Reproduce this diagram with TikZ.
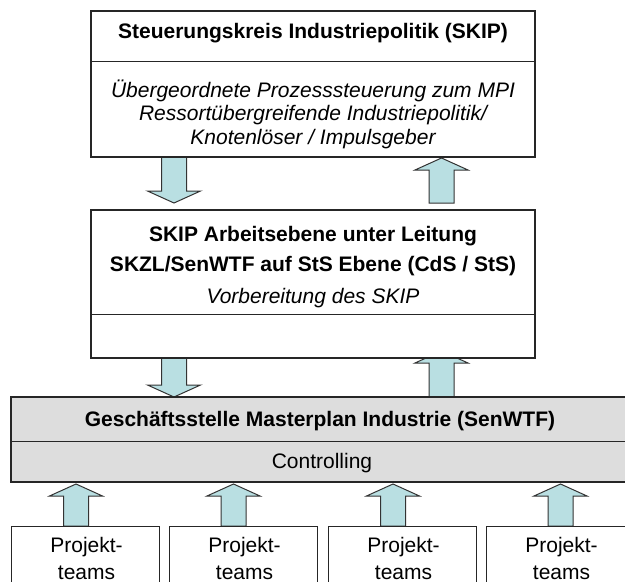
\documentclass[tikz,border=0pt]{standalone}
\usepackage{fontspec}
\setmainfont{Liberation Sans}
\usetikzlibrary{calc,backgrounds}

\definecolor{pfeilblau}{RGB}{185,223,226}
\definecolor{stellengrau}{RGB}{221,221,221}

% fat arrow from #1 (tail) to #2 (tip)
\newcommand{\blockpfeil}[2]{%
  \coordinate (hb) at ($(#2)!12pt!(#1)$);
  \draw[pfeil] ($(#1)!12.5pt!-90:(#2)$) -- ($(hb)!12.5pt!-90:(#2)$) -- ($(hb)!26.5pt!-90:(#2)$)
    -- (#2) -- ($(hb)!26.5pt!90:(#2)$) -- ($(hb)!12.5pt!90:(#2)$) -- ($(#1)!12.5pt!90:(#2)$) -- cycle;}

\begin{document}
\begin{tikzpicture}[x=1pt,y=-1pt,
    kasten/.style={draw=black!85,line width=1.1pt,fill=white,inner sep=0pt},
    pfeil/.style={draw=black!80,line width=1pt,fill=pfeilblau},
    txt/.style={align=center,inner sep=0pt,font=\fontsize{21}{23.5}\selectfont}]
  \path[use as bounding box] (0,0) rectangle (625,582);
  \clip (0,0) rectangle (625,582);

  % Boxes
  \node[kasten,minimum width=444pt,minimum height=146pt] (skip) at (313,84) {};
  \node[kasten,minimum width=444pt,minimum height=148pt] (arbeit) at (313,284) {};
  \node[kasten,fill=stellengrau,minimum width=623pt,minimum height=85pt] (gst) at (322.5,439.5) {};
  \draw[black!85,line width=1.1pt] ([yshift=-51pt]skip.north west) -- ([yshift=-51pt]skip.north east);
  \draw[black!85,line width=1.1pt] ([yshift=-105pt]arbeit.north west) -- ([yshift=-105pt]arbeit.north east);
  \draw[black!85,line width=1.1pt] ([yshift=-45pt]gst.north west) -- ([yshift=-45pt]gst.north east);

  % Texts
  \node[txt,font=\fontsize{21}{23.5}\selectfont\bfseries] (skiptitel) at (313,33) {Steuerungskreis Industriepolitik (SKIP)};
  \node[txt,font=\fontsize{21}{23.5}\selectfont\itshape] (skipinfo) at (313,114) {Übergeordnete Prozesssteuerung zum MPI\\Ressortübergreifende Industriepolitik/\\Knotenlöser / Impulsgeber};
  \node[txt,font=\fontsize{21}{30}\selectfont\bfseries] (arbeittitel) at (313,251) {SKIP Arbeitsebene unter Leitung\\SKZL/SenWTF auf StS Ebene (CdS / StS)};
  \node[txt,font=\fontsize{21}{23.5}\selectfont\itshape] (arbeitinfo) at (313,298) {Vorbereitung des SKIP};
  \node[txt,font=\fontsize{21}{23.5}\selectfont\bfseries] (gsttitel) at (320,421) {Geschäftsstelle Masterplan Industrie (SenWTF)};
  \node[txt] (controlling) at (322,463) {Controlling};

  % Project teams
  \foreach \x/\n in {11/1,169/2,328/3,486/4}{
    \node[kasten,minimum width=148pt,minimum height=80pt,anchor=north west] (team\n) at (\x,526) {};
    \node[txt,font=\fontsize{21}{27}\selectfont] (teamtext\n) at ($(team\n.north)+(1,32)$) {Projekt-\\teams};
  }

  % Arrows (behind the boxes)
  \begin{scope}[on background layer]
    \coordinate (o1) at (174,157);   \coordinate (u1) at (174,203);
    \coordinate (o2) at (441.5,203); \coordinate (u2) at (441.5,158);
    \coordinate (o3) at (174,357);   \coordinate (u3) at (174,397);
    \coordinate (o4) at (441.5,398); \coordinate (u4) at (441.5,351);
    \blockpfeil{o1}{u1}
    \blockpfeil{o2}{u2}
    \blockpfeil{o3}{u3}
    \blockpfeil{o4}{u4}
    \foreach \x [count=\n] in {76,233.5,393,560.5}{
      \coordinate (f\n) at (\x,526); \coordinate (s\n) at (\x,484);
      \blockpfeil{f\n}{s\n}
    }
  \end{scope}
\end{tikzpicture}
\end{document}
